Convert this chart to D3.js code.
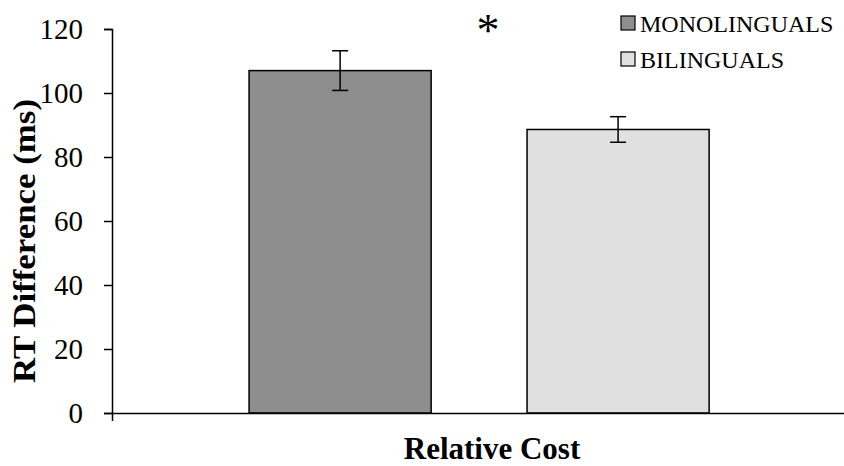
<!DOCTYPE html>
<html>
<head>
<meta charset="utf-8">
<script src="https://cdn.jsdelivr.net/npm/d3@7"></script>
<style>
    body { margin: 0; background: #fff; }
    svg { display: block; }
</style>
</head>
<body>
<script>
// Data
var categories = ["Relative Cost"];
var groups = ["MONOLINGUALS", "BILINGUALS"];
var means = [107, 88.6];
var errors = [6.2, 4.0];
var colors = ["#8e8e8e", "#e0e0e0"];
var yTicks = [0, 20, 40, 60, 80, 100, 120];

var W = 844, H = 466;
var margin = {top: 29, right: -28, bottom: 53, left: 112},
    width = W - margin.left - margin.right,   // plot runs past the right edge
    height = H - margin.top - margin.bottom;

var svg = d3.select("body").append("svg")
    .attr("width", W)
    .attr("height", H);

var g = svg.append("g")
    .attr("transform", "translate(" + margin.left + "," + margin.top + ")");

// outer scale for the category, inner one for the two groups
var x0 = d3.scaleBand().domain(categories).range([0, width])
    .paddingInner(0).paddingOuter(0.326).align(0.457);
var x1 = d3.scaleBand().domain(groups).range([0, x0.bandwidth()])
    .paddingInner(0.345).paddingOuter(0);
var y = d3.scaleLinear().domain([0, 120]).range([height, 0]);

var rows = groups.map(function(k, i) {
    return {key: k, value: means[i], err: errors[i], color: colors[i]};
});

// bars
var bars = g.append("g")
    .attr("transform", "translate(" + x0(categories[0]) + ",0)");

bars.selectAll("rect")
    .data(rows)
    .enter().append("rect")
    .attr("x", function(d) { return x1(d.key); })
    .attr("y", function(d) { return y(d.value); })
    .attr("width", x1.bandwidth())
    .attr("height", function(d) { return height - y(d.value); })
    .attr("fill", function(d) { return d.color; })
    .attr("stroke", "#000")
    .attr("stroke-width", 1.5);

// error bars
var eb = bars.selectAll("g.err")
    .data(rows)
    .enter().append("g")
    .attr("class", "err")
    .attr("stroke", "#000")
    .attr("stroke-width", 1.5);

eb.append("line")
    .attr("x1", function(d) { return x1(d.key) + x1.bandwidth() / 2; })
    .attr("x2", function(d) { return x1(d.key) + x1.bandwidth() / 2; })
    .attr("y1", function(d) { return y(d.value + d.err); })
    .attr("y2", function(d) { return y(d.value - d.err); });

[1, -1].forEach(function(s) {
    eb.append("line")
        .attr("x1", function(d) { return x1(d.key) + x1.bandwidth() / 2 - 8; })
        .attr("x2", function(d) { return x1(d.key) + x1.bandwidth() / 2 + 8; })
        .attr("y1", function(d) { return y(d.value + s * d.err); })
        .attr("y2", function(d) { return y(d.value + s * d.err); });
});

// y axis
var yAxis = d3.axisLeft(y).tickValues(yTicks).tickSize(8)
    .tickSizeOuter(8).tickPadding(21);
var ya = g.append("g").call(yAxis);
ya.select(".domain").attr("stroke-width", 1.5);
ya.selectAll(".tick line").attr("stroke-width", 1.5);
ya.selectAll("text")
    .attr("font-family", "'Liberation Serif', 'Times New Roman', serif")
    .attr("font-size", 29)
    .attr("fill", "#000");

// x axis, no tick labels
var xAxis = d3.axisBottom(x0).tickSize(0).tickSizeOuter(8).tickFormat("");
var xa = g.append("g")
    .attr("transform", "translate(0," + height + ")")
    .call(xAxis);
xa.select(".domain").attr("stroke-width", 1.5);

// axis titles
svg.append("text")
    .attr("x", 492)
    .attr("y", 459)
    .attr("text-anchor", "middle")
    .attr("font-family", "'Liberation Serif', 'Times New Roman', serif")
    .attr("font-weight", "bold")
    .attr("font-size", 31)
    .text("Relative Cost");

svg.append("text")
    .attr("transform", "translate(35," + 241 + ") rotate(-90)")
    .attr("text-anchor", "middle")
    .attr("font-family", "'Liberation Serif', 'Times New Roman', serif")
    .attr("font-weight", "bold")
    .attr("font-size", 32)
    .attr("textLength", 284)
    .attr("lengthAdjust", "spacingAndGlyphs")
    .text("RT Difference (ms)");

// significance star
svg.append("text")
    .attr("x", 488)
    .attr("y", 46)
    .attr("text-anchor", "middle")
    .attr("font-family", "'Liberation Serif', 'Times New Roman', serif")
    .attr("font-size", 46)
    .text("*");

// legend
var legend = svg.selectAll("g.legend")
    .data(rows)
    .enter().append("g")
    .attr("class", "legend")
    .attr("transform", function(d, i) {
        return "translate(621," + (16 + i * 36) + ")";
    });

legend.append("rect")
    .attr("width", 14)
    .attr("height", 14)
    .attr("fill", function(d) { return d.color; })
    .attr("stroke", "#000")
    .attr("stroke-width", 1.2);

legend.append("text")
    .attr("x", 19)
    .attr("y", 16)
    .attr("font-family", "'Liberation Serif', 'Times New Roman', serif")
    .attr("font-size", 24)
    .text(function(d) { return d.key; });
</script>
</body>
</html>
